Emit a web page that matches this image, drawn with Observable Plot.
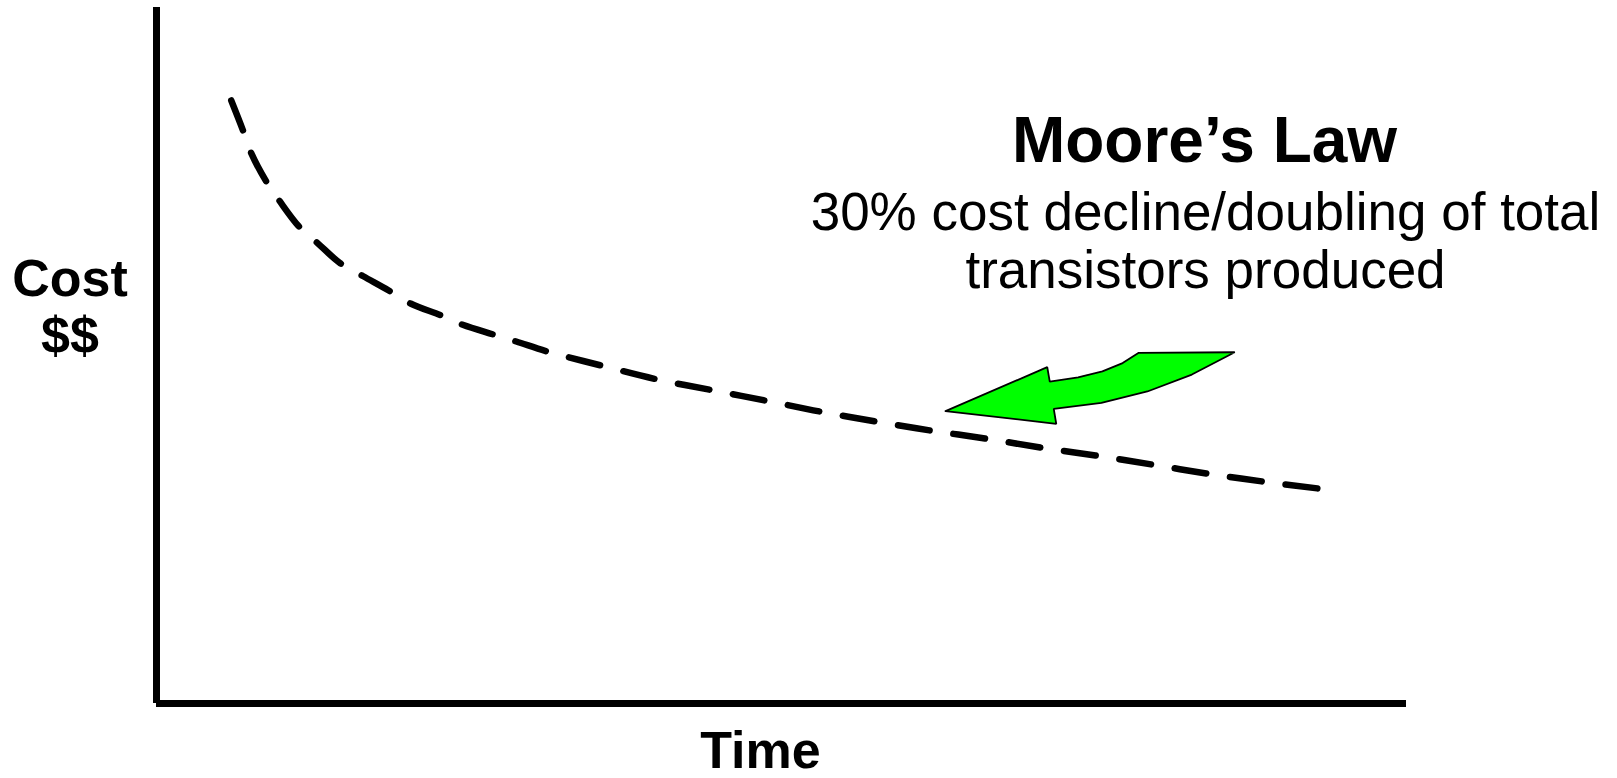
<!DOCTYPE html>
<html>
<head>
<meta charset="utf-8">
<script src="https://cdn.jsdelivr.net/npm/d3@7"></script>
<script src="https://cdn.jsdelivr.net/npm/@observablehq/plot@0.6"></script>
<style>
  html, body { margin: 0; padding: 0; background: #fff; }
  #chart svg { display: block; }
</style>
</head>
<body>
<div id="chart"></div>
<script>
// Conceptual Moore's Law cost curve (arbitrary units)
const timeValues = [5.98, 6.90, 7.58, 8.78, 9.86, 11.38, 12.86, 14.66, 16.54, 18.58, 20.32, 22.78, 24.50, 26.94, 28.78, 31.26, 35.58, 39.98, 44.30, 48.70, 53.06, 57.52, 61.92, 66.32, 70.72, 75.12, 79.60, 84.00, 88.48, 92.96];
const costValues = [86.64, 82.43, 79.07, 75.00, 72.17, 68.58, 66.19, 63.32, 61.39, 59.34, 57.47, 55.75, 54.41, 53.02, 52.01, 50.57, 48.56, 46.59, 45.07, 43.53, 41.95, 40.52, 39.22, 38.07, 36.78, 35.63, 34.34, 33.05, 31.90, 30.89];

// Annotation arrow outline (same units)
const arrowX = [63.12, 71.26, 71.46, 73.73, 75.67, 77.29, 78.58, 86.26, 82.83, 79.27, 75.59, 71.78, 71.98, 63.12];
const arrowY = [42.00, 48.32, 46.26, 46.85, 47.73, 48.91, 50.39, 50.47, 47.26, 44.83, 43.19, 42.34, 40.19, 42.00];

const yLabel = "Cost\n$$";
const xLabel = "Time";
const title = "Moore\u2019s Law";
const subtitle = "30% cost decline/doubling of total\ntransistors produced";

const curve = timeValues.map((t, i) => ({time: t, cost: costValues[i]}));
const arrow = arrowX.map((x, i) => ({x, y: arrowY[i]}));

const font = "Liberation Sans, Arial, Helvetica, sans-serif";

const chart = Plot.plot({
  width: 1617,
  height: 778,
  marginLeft: 156,
  marginRight: 211,
  marginTop: 7,
  marginBottom: 75,
  x: {domain: [0, 100], axis: null},
  y: {domain: [0, 100], axis: null},
  style: {background: "#fff"},
  marks: [
    Plot.ruleX([0], {y1: 0, y2: 100, stroke: "black", strokeWidth: 7}),
    Plot.ruleY([0], {x1: 0, x2: 100, stroke: "black", strokeWidth: 7}),
    Plot.line(curve, {x: "time", y: "cost", stroke: "black", strokeWidth: 6.5, strokeDasharray: "32,24", curve: "catmull-rom"}),
    Plot.line(arrow, {x: "x", y: "y", fill: "#00ff00", stroke: "black", strokeWidth: 1.8, strokeLinejoin: "miter"}),
    Plot.text([title], {x: 83.84, y: 77.73, text: d => d, textAnchor: "middle", lineAnchor: "bottom", fontSize: 64, fontWeight: "bold", fontFamily: font, fill: "black"}),
    Plot.text([subtitle], {x: 83.92, y: 59.63, text: d => d, textAnchor: "middle", lineAnchor: "bottom", lineHeight: 1.11, fontSize: 53, fontFamily: font, fill: "black"}),
    Plot.text([yLabel], {x: -6.92, y: 50.29, text: d => d, textAnchor: "middle", lineAnchor: "bottom", lineHeight: 1.096, fontSize: 52, fontWeight: "bold", fontFamily: font, fill: "black"}),
    Plot.text([xLabel], {x: 48.32, y: -9.3, text: d => d, textAnchor: "middle", lineAnchor: "bottom", fontSize: 52, fontWeight: "bold", fontFamily: font, fill: "black"})
  ]
});
document.getElementById("chart").append(chart);
</script>
</body>
</html>
